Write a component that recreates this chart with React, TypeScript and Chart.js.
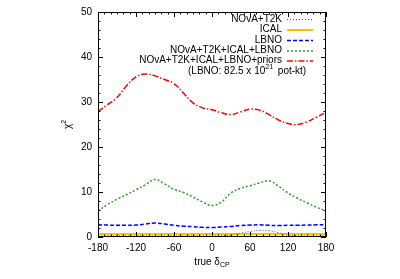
import React, { useEffect, useRef } from "react";
import { Chart, registerables } from "chart.js";

Chart.register(...registerables);

const deltaCP = [-180, -165, -150, -135, -120, -105, -90, -75, -60, -45, -30, -15, 0, 15, 30, 45, 60, 75, 90, 105, 120, 135, 150, 165, 180];
const novaT2K = [0.25, 0.25, 0.25, 0.25, 0.25, 0.25, 0.25, 0.25, 0.25, 0.25, 0.25, 0.25, 0.25, 0.3, 0.45, 0.85, 1.2, 1.45, 1.4, 0.95, 0.45, 0.3, 0.25, 0.25, 0.25];
const ical = [0.65, 0.65, 0.65, 0.65, 0.65, 0.65, 0.65, 0.65, 0.65, 0.65, 0.65, 0.65, 0.65, 0.65, 0.65, 0.65, 0.65, 0.65, 0.65, 0.65, 0.65, 0.65, 0.65, 0.65, 0.65];
const lbno = [2.7, 2.65, 2.6, 2.6, 2.65, 2.9, 3.1, 2.9, 2.6, 2.4, 2.3, 2.15, 2.1, 2.2, 2.35, 2.55, 2.65, 2.7, 2.6, 2.55, 2.6, 2.6, 2.65, 2.7, 2.75];
const combined = [5.8, 7.2, 8.4, 9.4, 10.5, 11.6, 12.8, 11.8, 10.6, 9.9, 8.9, 7.8, 7.0, 7.8, 9.8, 10.8, 11.4, 12.0, 12.5, 11.3, 9.8, 8.6, 7.6, 6.6, 5.8];
const combinedPriors = [27.9, 29.4, 31.0, 33.6, 35.6, 36.2, 35.8, 35.0, 34.1, 32.0, 29.8, 28.7, 28.3, 27.6, 27.2, 27.8, 28.4, 28.2, 27.2, 26.0, 25.2, 25.0, 25.6, 26.6, 27.7];

const seriesLabels = ["NOvA+T2K", "ICAL", "LBNO", "NOvA+T2K+ICAL+LBNO", "NOvA+T2K+ICAL+LBNO+priors"];
const xTicks = [-180, -120, -60, 0, 60, 120, 180];
const yTicks = [0, 10, 20, 30, 40, 50];

const FONT = "'Liberation Sans', Arial, sans-serif";

const framePlugin = {
  id: "gnuplotFrame",
  afterDraw(chart: any) {
    const ctx = chart.ctx;
    const { left, right, top, bottom } = chart.chartArea;
    const xs = chart.scales.x;
    const ys = chart.scales.y;
    ctx.save();
    ctx.strokeStyle = "#000";
    ctx.lineWidth = 1;
    ctx.setLineDash([]);
    ctx.beginPath();
    ctx.rect(left + 0.5, top + 0.5, right - left - 1, bottom - top - 1);
    ctx.stroke();
    ctx.beginPath();
    for (let v = -180; v <= 180; v += 10) {
      const px = Math.round(xs.getPixelForValue(v)) + 0.5;
      const len = v % 60 === 0 ? 5 : 2.5;
      ctx.moveTo(px, bottom);
      ctx.lineTo(px, bottom - len);
      ctx.moveTo(px, top);
      ctx.lineTo(px, top + len);
    }
    for (let v = 0; v <= 50; v += 2) {
      const py = Math.round(ys.getPixelForValue(v)) + 0.5;
      const len = v % 10 === 0 ? 5 : 2.5;
      ctx.moveTo(left, py);
      ctx.lineTo(left + len, py);
      ctx.moveTo(right, py);
      ctx.lineTo(right - len, py);
    }
    ctx.stroke();

    ctx.font = "10px " + FONT;
    ctx.fillStyle = "#000";
    ctx.textBaseline = "middle";
    const rowY = [19, 29.5, 40, 50.5, 60.5];
    chart.data.datasets.forEach((ds: any, i: number) => {
      const y = rowY[i];
      ctx.textAlign = "right";
      ctx.fillText(ds.label, 282, y);
      ctx.save();
      ctx.strokeStyle = ds.borderColor;
      ctx.lineWidth = ds.borderWidth;
      ctx.setLineDash(ds.borderDash || []);
      ctx.beginPath();
      ctx.moveTo(287, y + 0.5);
      ctx.lineTo(313, y + 0.5);
      ctx.stroke();
      ctx.restore();
    });
    ctx.textAlign = "left";
    let x = 188;
    const ny = 71;
    const p1 = "(LBNO: 82.5 x 10";
    ctx.fillText(p1, x, ny);
    x += ctx.measureText(p1).width;
    ctx.font = "7px " + FONT;
    ctx.fillText("21", x, ny - 4);
    x += ctx.measureText("21").width + 2;
    ctx.font = "10px " + FONT;
    ctx.fillText(" pot-kt)", x, ny);

    const cx = (left + right) / 2;
    const t1 = "true δ";
    ctx.font = "10px " + FONT;
    const w1 = ctx.measureText(t1).width;
    ctx.font = "7px " + FONT;
    const w2 = ctx.measureText("CP").width;
    const tx = cx - (w1 + w2) / 2;
    ctx.font = "10px " + FONT;
    ctx.fillText(t1, tx, 262);
    ctx.font = "7px " + FONT;
    ctx.fillText("CP", tx + w1, 265);

    ctx.save();
    ctx.translate(67, (top + bottom) / 2);
    ctx.rotate(-Math.PI / 2);
    ctx.font = "10px " + FONT;
    const c1 = ctx.measureText("χ").width;
    ctx.font = "7px " + FONT;
    const c2 = ctx.measureText("2").width;
    ctx.font = "10px " + FONT;
    ctx.fillText("χ", -(c1 + c2) / 2, 1);
    ctx.font = "7px " + FONT;
    ctx.fillText("2", -(c1 + c2) / 2 + c1, -3);
    ctx.restore();
    ctx.restore();
  },
};

function mk(values: number[]) {
  return deltaCP.map((x, i) => ({ x, y: values[i] }));
}

export default function App() {
  const ref = useRef<HTMLCanvasElement>(null);
  useEffect(() => {
    const canvas = ref.current!;
    const chart = new Chart(canvas, {
      type: "line",
      data: {
        datasets: [
          { label: seriesLabels[0], data: mk(novaT2K), borderColor: "#555555", borderWidth: 1, borderDash: [1, 2], pointRadius: 0, tension: 0.4, fill: false },
          { label: seriesLabels[1], data: mk(ical), borderColor: "#f5c400", borderWidth: 2, borderDash: [], pointRadius: 0, tension: 0.4, fill: false },
          { label: seriesLabels[2], data: mk(lbno), borderColor: "#0000ff", borderWidth: 1.5, borderDash: [4, 2], pointRadius: 0, tension: 0.4, fill: false },
          { label: seriesLabels[3], data: mk(combined), borderColor: "#2ca02c", borderWidth: 1.5, borderDash: [2, 2], pointRadius: 0, tension: 0.4, fill: false },
          { label: seriesLabels[4], data: mk(combinedPriors), borderColor: "#ff0000", borderWidth: 1.5, borderDash: [6, 2, 1.5, 2], pointRadius: 0, tension: 0.4, fill: false },
        ],
      },
      options: {
        responsive: false,
        animation: false,
        layout: { padding: { top: 11, right: 74, left: 0, bottom: 0 } },
        plugins: { legend: { display: false }, tooltip: { enabled: false }, title: { display: false } },
        scales: {
          x: {
            type: "linear",
            min: -180,
            max: 180,
            afterFit: (s: any) => { s.height = 42; },
            afterBuildTicks: (s: any) => { s.ticks = xTicks.map((v) => ({ value: v })); },
            grid: { display: false, drawTicks: false },
            border: { display: false },
            ticks: { font: { family: FONT, size: 10 }, color: "#000", padding: 5, maxRotation: 0 },
          },
          y: {
            type: "linear",
            min: 0,
            max: 50,
            afterFit: (s: any) => { s.width = 98; },
            afterBuildTicks: (s: any) => { s.ticks = yTicks.map((v) => ({ value: v })); },
            grid: { display: false, drawTicks: false },
            border: { display: false },
            ticks: { font: { family: FONT, size: 10 }, color: "#000", padding: 6 },
          },
        },
      },
      plugins: [framePlugin],
    } as any);
    return () => chart.destroy();
  }, []);
  return (
    <div style={{ position: "fixed", left: 0, top: 0, width: 400, height: 279, background: "#fff" }}>
      <canvas ref={ref} width={400} height={279} style={{ width: 400, height: 279 }} />
    </div>
  );
}
